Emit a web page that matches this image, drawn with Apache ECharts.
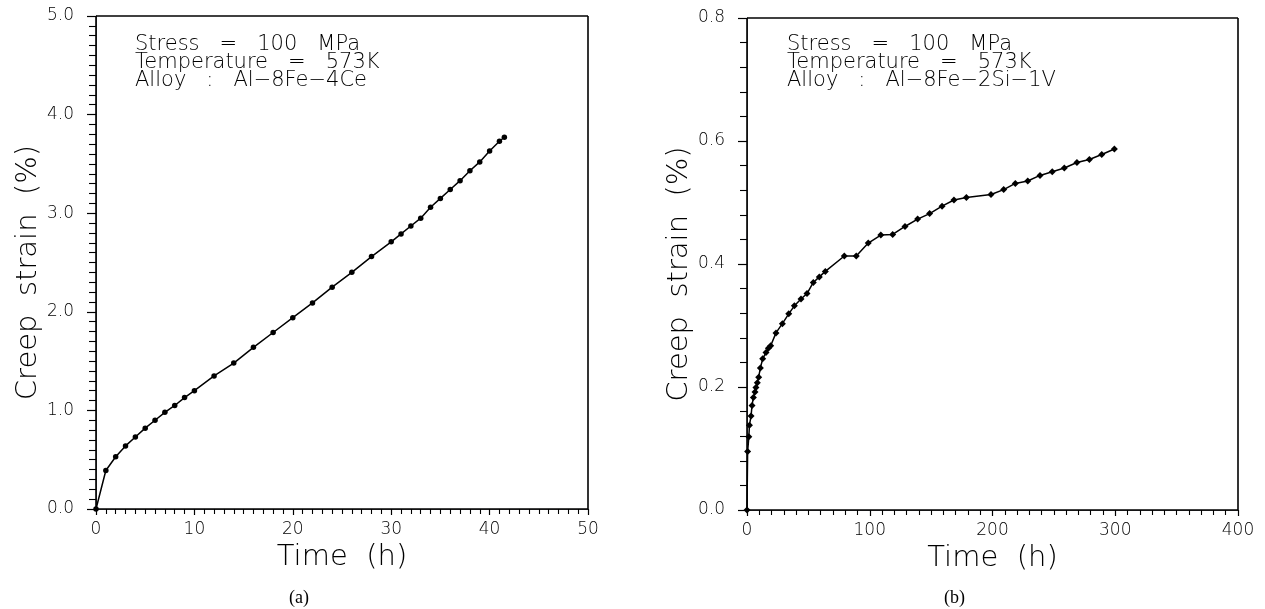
<!DOCTYPE html>
<html>
<head>
<meta charset="utf-8">
<script src="https://cdn.jsdelivr.net/npm/echarts@6/dist/echarts.min.js"></script>
<style>
html,body{margin:0;padding:0;background:#fff;}
#c{width:1265px;height:609px;}
</style>
</head>
<body>
<div id="c"></div>
<script>
// ---- data (a): Al-8Fe-4Ce ----
const timeA = [0,1,2,3,4,5,6,7,8,9,10,12,14,16,18,20,22,24,26,28,30,31,32,33,34,35,36,37,38,39,40,41,41.5];
const strainA = [0,0.39,0.53,0.64,0.73,0.82,0.90,0.98,1.05,1.13,1.20,1.35,1.48,1.64,1.79,1.94,2.09,2.25,2.40,2.56,2.71,2.79,2.87,2.95,3.06,3.15,3.24,3.33,3.43,3.52,3.63,3.73,3.77];
// ---- data (b): Al-8Fe-2Si-1V ----
const timeB = [0,0.5,1.5,2,3.3,4.1,5.2,6.5,7.3,8.4,9.5,10.9,12.8,15.5,17.4,19.3,23.6,28.8,34,38.6,44,48.9,54,58.9,63.8,79.3,89,98.8,109,118.7,128.7,139,148.8,158.9,168.6,178.7,198.8,209.1,218.6,228.7,238.7,248.7,258.5,268.8,278.9,289,299.3];
const strainB = [0,0.095,0.119,0.138,0.153,0.170,0.183,0.192,0.199,0.207,0.216,0.231,0.246,0.256,0.263,0.267,0.288,0.303,0.319,0.332,0.343,0.352,0.370,0.379,0.388,0.413,0.413,0.434,0.447,0.448,0.461,0.473,0.482,0.494,0.504,0.508,0.513,0.521,0.531,0.535,0.544,0.550,0.556,0.565,0.570,0.578,0.587];
// ---- axes: range, labelled step, minor subdivisions ----
const xAxisA = {min:0, max:50, major:10, minor:10, digits:0};
const yAxisA = {min:0, max:5, major:1, minor:10, digits:1};
const xAxisB = {min:0, max:400, major:100, minor:10, digits:0};
const yAxisB = {min:0, max:0.8, major:0.2, minor:5, digits:1};
const xName = 'Time  (h)';
const yName = 'Creep  strain  (%)';
const notesA = ['Stress   =   100   MPa','Temperature   =   573K','Alloy   :   Al\u22128Fe\u22124Ce'];
const notesB = ['Stress   =   100   MPa','Temperature   =   573K','Alloy   :   Al\u22128Fe\u22122Si\u22121V'];
const captions = ['(a)','(b)'];

const FONT = 'DejaVu Sans';
const W = 200;

function xAx(gi, a){
  return {
    type:'value', gridIndex:gi, min:a.min, max:a.max, interval:a.major,
    name:xName, nameLocation:'middle', nameGap:30,
    nameTextStyle:{fontFamily:FONT, fontWeight:W, fontSize:29, color:'#000'},
    axisTick:{show:true, length:6, lineStyle:{color:'#000', width:1.2}},
    minorTick:{show:true, splitNumber:a.minor, length:5, lineStyle:{color:'#000', width:1.1}},
    splitLine:{show:false},
    axisLabel:{margin:12, fontFamily:FONT, fontWeight:W, fontSize:17, color:'#000',
      formatter:v=>v.toFixed(a.digits), showMinLabel:true, showMaxLabel:true}
  };
}
function yAx(gi, a){
  return {
    type:'value', gridIndex:gi, min:a.min, max:a.max, interval:a.major,
    name:yName, nameLocation:'middle', nameGap:44, nameRotate:90,
    nameTextStyle:{fontFamily:FONT, fontWeight:W, fontSize:29, color:'#000', padding:[0,20,0,0]},
    axisTick:{show:true, length:9, lineStyle:{color:'#000', width:1.2}},
    minorTick:{show:true, splitNumber:a.minor, length:7, lineStyle:{color:'#000', width:1.1}},
    splitLine:{show:false},
    axisLabel:{margin:22, fontFamily:FONT, fontWeight:W, fontSize:17, color:'#000',
      formatter:v=>v.toFixed(a.digits), showMinLabel:true, showMaxLabel:true}
  };
}
// black frame lines (box edges) drawn through the axes' scales
function frame(ax, ay){
  return {silent:true, symbol:'none', label:{show:false},
    lineStyle:{color:'#000', width:1.6, type:'solid'},
    emphasis:{disabled:true},
    data:[{xAxis:ax.min}, {xAxis:ax.max}, {yAxis:ay.min}, {yAxis:ay.max}]};
}

const chart = echarts.init(document.getElementById('c'));
chart.setOption({
  animation:false,
  grid:[
    {left:96, top:16, width:492, height:493},
    {left:747, top:18, width:491, height:492}
  ],
  xAxis:[xAx(0, xAxisA), xAx(1, xAxisB)],
  yAxis:[yAx(0, yAxisA), yAx(1, yAxisB)],
  series:[
    {type:'line', xAxisIndex:0, yAxisIndex:0, data:timeA.map((t,i)=>[t,strainA[i]]),
     symbol:'circle', symbolSize:5.5, showAllSymbol:true,
     lineStyle:{color:'#000', width:1.5}, itemStyle:{color:'#000'},
     markLine:frame(xAxisA, yAxisA)},
    {type:'line', xAxisIndex:1, yAxisIndex:1, data:timeB.map((t,i)=>[t,strainB[i]]),
     symbol:'diamond', symbolSize:7, showAllSymbol:true,
     lineStyle:{color:'#000', width:1.5}, itemStyle:{color:'#000'},
     markLine:frame(xAxisB, yAxisB)}
  ],
  graphic:[
    {type:'text', left:135, top:34, style:{text:notesA.join('\n'), font:'200 21px "DejaVu Sans"', lineHeight:18, fill:'#000'}},
    {type:'text', left:787, top:34, style:{text:notesB.join('\n'), font:'200 21px "DejaVu Sans"', lineHeight:18, fill:'#000'}},
    {type:'text', left:289, top:589, style:{text:captions[0], font:'18px "Liberation Serif"', fill:'#000'}},
    {type:'text', left:944, top:589, style:{text:captions[1], font:'18px "Liberation Serif"', fill:'#000'}}
  ]
});
</script>
</body>
</html>
